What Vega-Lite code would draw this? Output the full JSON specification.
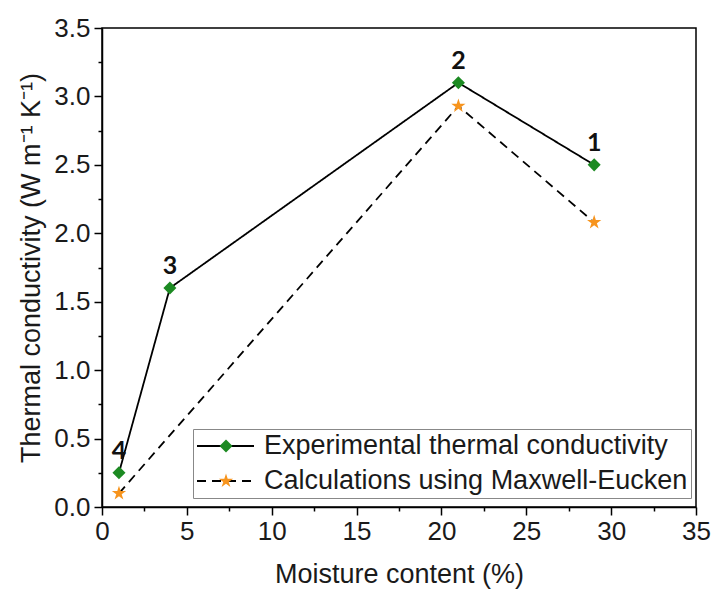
{
  "$schema": "https://vega.github.io/schema/vega-lite/v6.json",
  "width": 594,
  "height": 479,
  "autosize": "none",
  "padding": {"left": 102, "top": 28, "right": 16, "bottom": 84},
  "background": "white",
  "config": {
    "view": {"stroke": "black", "strokeWidth": 1.5},
    "axis": {
      "grid": false,
      "domainColor": "black",
      "domainWidth": 1.5,
      "tickColor": "black",
      "tickWidth": 1.5,
      "labelFont": "Liberation Sans",
      "labelFontSize": 26,
      "labelColor": "#1a1a1a",
      "titleFont": "Liberation Sans",
      "titleFontSize": 27,
      "titleFontWeight": "normal",
      "titleColor": "#1a1a1a",
      "labelOverlap": false,
      "labelFlush": false
    }
  },
  "data": {
    "values": [
      {"series": "Experimental thermal conductivity", "moisture": 1, "k": 0.25, "label": "4"},
      {"series": "Experimental thermal conductivity", "moisture": 4, "k": 1.6, "label": "3"},
      {"series": "Experimental thermal conductivity", "moisture": 21, "k": 3.1, "label": "2"},
      {"series": "Experimental thermal conductivity", "moisture": 29, "k": 2.5, "label": "1"},
      {"series": "Calculations using Maxwell-Eucken", "moisture": 1, "k": 0.1, "label": null},
      {"series": "Calculations using Maxwell-Eucken", "moisture": 21, "k": 2.93, "label": null},
      {"series": "Calculations using Maxwell-Eucken", "moisture": 29, "k": 2.08, "label": null}
    ]
  },
  "encoding": {
    "x": {
      "field": "moisture",
      "type": "quantitative",
      "scale": {"domain": [0, 35], "nice": false, "zero": false},
      "axis": {
        "title": "Moisture content (%)",
        "values": [0, 2.5, 5, 7.5, 10, 12.5, 15, 17.5, 20, 22.5, 25, 27.5, 30, 32.5, 35],
        "labelExpr": "datum.value % 5 === 0 ? datum.label : ''",
        "tickSize": {"condition": {"test": "datum.value % 5 === 0", "value": 8}, "value": 4},
        "labelPadding": 3,
        "titlePadding": 17
      }
    },
    "y": {
      "field": "k",
      "type": "quantitative",
      "scale": {"domain": [0, 3.5], "nice": false, "zero": false},
      "axis": {
        "title": "Thermal conductivity (W m⁻¹ K⁻¹)",
        "values": [0, 0.25, 0.5, 0.75, 1, 1.25, 1.5, 1.75, 2, 2.25, 2.5, 2.75, 3, 3.25, 3.5],
        "labelExpr": "round(datum.value * 4) % 2 === 0 ? format(datum.value, '.1f') : ''",
        "tickSize": {"condition": {"test": "round(datum.value * 4) % 2 === 0", "value": 8}, "value": 4},
        "labelPadding": 4,
        "titlePadding": 8
      }
    }
  },
  "layer": [
    {
      "mark": {"type": "line", "color": "black", "strokeWidth": 1.8},
      "encoding": {
        "strokeDash": {
          "field": "series",
          "type": "nominal",
          "sort": ["Experimental thermal conductivity", "Calculations using Maxwell-Eucken"],
          "scale": {"range": [[1, 0], [9, 6]]},
          "legend": {
            "title": null,
            "orient": "none",
            "legendX": 91,
            "legendY": 401,
            "padding": 3,
            "strokeColor": "#888",
            "symbolType": "stroke",
            "symbolSize": 3249,
            "symbolStrokeColor": "black",
            "symbolStrokeWidth": 1.8,
            "labelFont": "Liberation Sans",
            "labelFontSize": 27,
            "labelColor": "#1a1a1a",
            "labelOffset": 9,
            "labelLimit": 600,
            "clipHeight": 28,
            "rowPadding": 7
          }
        }
      }
    },
    {
      "mark": {"type": "point", "filled": true, "opacity": 1, "size": 170},
      "encoding": {
        "color": {
          "field": "series",
          "type": "nominal",
          "scale": {
            "domain": ["Experimental thermal conductivity", "Calculations using Maxwell-Eucken"],
            "range": ["#1c8a22", "#f7941d"]
          },
          "legend": {
            "title": null,
            "orient": "none",
            "legendX": 91,
            "legendY": 401,
            "padding": 3,
            "symbolSize": 170,
            "symbolStrokeWidth": 0,
            "symbolOffset": 16.5,
            "labelFontSize": 27,
            "labelExpr": "''",
            "clipHeight": 28,
            "rowPadding": 7
          }
        },
        "shape": {
          "field": "series",
          "type": "nominal",
          "scale": {
            "domain": ["Experimental thermal conductivity", "Calculations using Maxwell-Eucken"],
            "range": ["diamond", "M0,-1.15L0.258,-0.355L1.094,-0.355L0.417,0.136L0.676,0.93L0,0.439L-0.676,0.93L-0.417,0.136L-1.094,-0.355L-0.258,-0.355Z"]
          },
          "legend": {
            "title": null,
            "orient": "none",
            "legendX": 91,
            "legendY": 401,
            "padding": 3,
            "symbolSize": 170,
            "symbolStrokeWidth": 0,
            "symbolOffset": 16.5,
            "labelFontSize": 27,
            "labelExpr": "''",
            "clipHeight": 28,
            "rowPadding": 7
          }
        }
      }
    },
    {
      "transform": [{"filter": "datum.label != null"}],
      "mark": {"type": "text", "font": "Lato", "fontWeight": "bold", "fontSize": 25, "color": "#111", "dy": -22, "baseline": "middle", "align": "center"},
      "encoding": {
        "text": {"field": "label", "type": "nominal"}
      }
    }
  ]
}
